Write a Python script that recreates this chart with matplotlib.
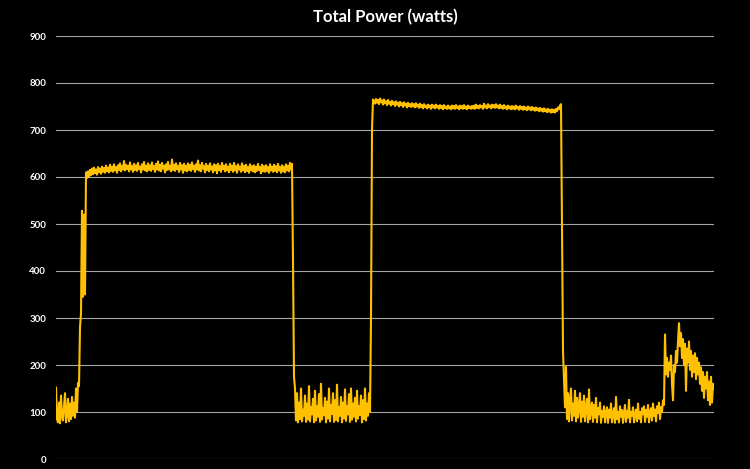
import numpy as np
import matplotlib
matplotlib.use("Agg")
import matplotlib.pyplot as plt

# Power trace segments (watts), one sample per step
idle_start = [152, 85, 78, 120, 76, 135, 90, 82, 110, 140, 78, 95, 128, 80, 118, 85,
              132, 92, 120, 88, 150, 100, 162]
ramp_up_1 = [155, 280, 310, 528, 345, 520, 350, 610, 598]
load_1 = [
    612, 600, 615, 604, 618, 606, 620, 608, 616, 605, 621, 610, 618, 607, 622, 611, 619, 609, 624, 612,
    620, 610, 626, 613, 622, 611, 627, 614, 621, 609, 625, 615, 629, 612, 623, 616, 634, 614, 626, 617,
    624, 612, 631, 616, 623, 611, 628, 615, 625, 613, 630, 617, 622, 610, 627, 616, 632, 614, 624, 612,
    629, 615, 625, 613, 631, 617, 623, 611, 628, 616, 633, 614, 626, 612, 630, 618, 624, 610, 627, 615,
    632, 616, 624, 612, 637, 615, 626, 613, 629, 617, 623, 611, 630, 616, 625, 609, 628, 614, 624, 612,
    629, 615, 626, 613, 631, 617, 624, 611, 627, 616, 635, 614, 625, 612, 630, 618, 623, 610, 628, 615,
    624, 612, 629, 616, 622, 610, 627, 614, 625, 608, 628, 615, 623, 611, 630, 617, 624, 612, 627, 614,
    622, 610, 628, 615, 624, 611, 630, 614, 623, 609, 627, 616, 622, 611, 629, 614, 624, 610, 626, 613,
    621, 609, 627, 614, 623, 612, 625, 610, 622, 613, 628, 615, 621, 608, 626, 612, 623, 611, 625, 613,
    621, 609, 627, 614, 622, 611, 626, 613, 623, 610, 628, 614, 621, 609, 625, 612, 622, 610, 627, 614,
    624, 612, 630, 616, 628]
ramp_down_1 = [420, 175, 150]
idle_mid = [
    82, 140, 78, 120, 85, 150, 80, 105, 92, 135, 79, 118, 84, 155, 80, 110, 95, 128, 78, 145,
    82, 112, 90, 138, 79, 160, 84, 108, 93, 130, 78, 122, 86, 150, 80, 115, 96, 140, 79, 125,
    83, 158, 80, 110, 92, 132, 78, 120, 86, 148, 81, 112, 95, 138, 79, 150, 84, 118, 90, 130,
    80, 145, 86, 112, 94, 135, 78, 125, 85, 150, 82, 118, 92, 140, 100]
ramp_up_2 = [300, 700, 765]
load_2 = [
    762, 756, 766, 758, 764, 755, 767, 759, 763, 754, 765, 757, 761, 753, 764, 756, 760, 752, 762, 755,
    759, 751, 761, 754, 758, 750, 760, 753, 757, 749, 759, 752, 756, 748, 758, 751, 755, 749, 757, 750,
    755, 748, 757, 750, 754, 747, 756, 749, 753, 746, 755, 749, 752, 746, 754, 748, 752, 745, 754, 748,
    752, 746, 754, 748, 751, 745, 753, 747, 751, 744, 753, 747, 750, 745, 752, 746, 750, 744, 752, 746,
    751, 745, 753, 747, 750, 744, 752, 746, 751, 745, 753, 746, 750, 744, 752, 747, 750, 745, 751, 746,
    752, 745, 754, 747, 751, 746, 753, 748, 751, 745, 756, 748, 752, 746, 755, 749, 752, 746, 754, 748,
    753, 747, 755, 748, 752, 746, 754, 747, 751, 745, 753, 747, 750, 744, 752, 746, 750, 744, 751, 745,
    750, 744, 752, 746, 749, 743, 751, 745, 749, 743, 750, 744, 748, 742, 750, 744, 748, 742, 749, 743,
    747, 741, 748, 742, 746, 740, 747, 741, 745, 739, 746, 740, 744, 738, 745, 739, 743, 737, 744, 738,
    743, 737, 745, 740, 748, 744, 752, 755]
ramp_down_2 = [500, 230, 170]
idle_end = [
    110, 196, 85, 140, 80, 125, 150, 82, 118, 92, 145, 80, 130, 88, 112, 140, 79, 122, 90, 135,
    80, 110, 128, 78, 148, 85, 105, 120, 79, 115, 88, 130, 78, 108, 95, 120, 77, 102, 90, 112,
    78, 98, 110, 77, 105, 88, 118, 78, 96, 108, 77, 132, 85, 100, 78, 112, 90, 104, 77, 98,
    115, 79, 102, 88, 126, 78, 100, 92, 110, 78, 96, 105, 80, 118, 86, 100, 78, 108, 95, 112,
    79, 104, 90, 115, 78, 100, 108, 82, 118, 92, 105, 80, 112, 98, 120, 85, 110, 100, 125, 115]
final_burst = [
    265, 180, 215, 175, 205, 190, 220, 160, 125, 200, 185, 230, 205, 250, 289, 240, 268, 215, 255, 200,
    245, 145, 235, 205, 250, 190, 230, 175, 220, 185, 225, 170, 215, 180, 205, 160, 195, 145, 185, 130,
    175, 150, 185, 125, 165, 115, 175, 120, 160, 150]

y_ticks = [0, 100, 200, 300, 400, 500, 600, 700, 800, 900]
title = "Total Power (watts)"

power = np.array(idle_start + ramp_up_1 + load_1 + ramp_down_1 + idle_mid +
                 ramp_up_2 + load_2 + ramp_down_2 + idle_end + final_burst, dtype=float)
samples = np.arange(len(power))

fig = plt.figure(figsize=(7.5, 4.69), dpi=100, facecolor="black")
ax = fig.add_axes([56 / 750, 1 - 459 / 469, (714 - 56) / 750, (459 - 36) / 469])
ax.set_facecolor("black")

ax.plot(samples, power, color="#FFC000", linewidth=1.5, zorder=3)

ax.set_ylim(0, 900)
ax.set_xlim(0, len(power) - 1)
ax.set_yticks(y_ticks)
ax.set_xticks([])
ax.grid(axis="y", color="#a6a6a6", linewidth=0.8)
ax.set_axisbelow(True)
for s in ax.spines.values():
    s.set_visible(False)
ax.tick_params(axis="y", length=0, pad=7, labelsize=7, labelcolor="white")
for lab in ax.get_yticklabels():
    lab.set_fontweight("bold")
    lab.set_family("Lato")

fig.text((56 + 714) / 2 / 750, 1 - 17 / 469, title, ha="center", va="center",
         color="white", fontsize=12, fontweight="bold", family="Lato")

fig.savefig("out.png", dpi=100, facecolor="black")
